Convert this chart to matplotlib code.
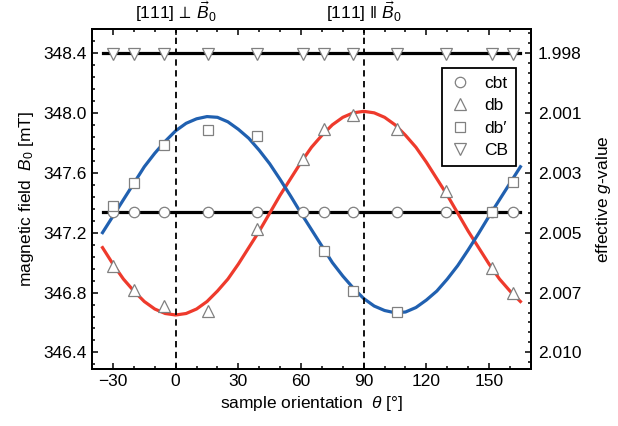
import matplotlib
matplotlib.use('Agg')
import matplotlib.pyplot as plt
from matplotlib.ticker import MultipleLocator, AutoMinorLocator

plt.rcParams['font.family'] = ['Liberation Sans', 'DejaVu Sans']
plt.rcParams['mathtext.fontset'] = 'custom'
plt.rcParams['mathtext.rm'] = 'Liberation Sans'
plt.rcParams['mathtext.it'] = 'Liberation Sans:italic'
plt.rcParams['mathtext.bf'] = 'Liberation Sans:bold'
plt.rcParams['mathtext.fallback'] = 'stixsans'

# sample orientations (deg) of the measured spectra
theta = [-30, -20, -5.5, 15.5, 39, 61, 71, 85, 106, 129.5, 151.5, 161.5]
cbt = [347.335] * 12
cb = [348.39] * 12
db = [346.975, 346.815, 346.713, 346.675, 347.225, 347.69,
      347.895, 347.987, 347.895, 347.475, 346.965, 346.798]
theta_dbp = [-30, -20, -5.5, 15.5, 39, 71, 85, 106, 151.5, 161.5]
dbp = [347.38, 347.53, 347.785, 347.887, 347.847,
       347.075, 346.813, 346.67, 347.335, 347.535]

# fitted curves every 5 deg
theta_fit = list(range(-35, 170, 5))
db_fit = [347.10, 346.99, 346.89, 346.81, 346.74, 346.69, 346.66, 346.65,
          346.66, 346.69, 346.74, 346.81, 346.89, 346.99, 347.10, 347.21,
          347.33, 347.45, 347.56, 347.67, 347.77, 347.85, 347.92, 347.97,
          348.00, 348.01, 348.00, 347.97, 347.92, 347.85, 347.77, 347.67,
          347.56, 347.45, 347.33, 347.21, 347.10, 346.99, 346.89, 346.81,
          346.74]
dbp_fit = [347.20, 347.31, 347.42, 347.53, 347.64, 347.73, 347.81, 347.88,
           347.93, 347.96, 347.975, 347.97, 347.94, 347.89, 347.83, 347.75,
           347.66, 347.555, 347.445, 347.33, 347.22, 347.11, 347.00, 346.91,
           346.83, 346.76, 346.71, 346.68, 346.665, 346.67, 346.70, 346.75,
           346.81, 346.89, 346.98, 347.085, 347.195, 347.31, 347.42, 347.53,
           347.64]
theta_flat = [-35, 165]
cbt_fit = [347.335, 347.335]
cb_fit = [348.40, 348.40]

b_ticks = [346.4, 346.8, 347.2, 347.6, 348.0, 348.4]
g_labels = ['2.010', '2.007', '2.005', '2.003', '2.001', '1.998']

RED = '#ee3a2c'
BLUE = '#2060b0'
FS = 12.5

fig = plt.figure(figsize=(6.18, 4.26), dpi=100)
ax = fig.add_axes([0.149, 0.134, 0.710, 0.798])

ax.plot(theta_flat, cb_fit, color='black', lw=2.3, zorder=2)
ax.plot(theta_flat, cbt_fit, color='black', lw=2.3, zorder=2)
ax.plot(theta_fit, db_fit, color=RED, lw=2.3, zorder=2)
ax.plot(theta_fit, dbp_fit, color=BLUE, lw=2.3, zorder=2)

ax.axvline(0, color='black', lw=1.3, ls=(0, (3.5, 2.5)), zorder=3)
ax.axvline(90, color='black', lw=1.3, ls=(0, (3.5, 2.5)), zorder=3)

mk = dict(ls='none', mfc='white', mec='#808080', mew=0.9, zorder=4)
ax.plot(theta, cbt, marker='o', ms=7.5, label='cbt', **mk)
ax.plot(theta, db, marker='^', ms=8.5, label='db', **mk)
ax.plot(theta_dbp, dbp, marker='s', ms=6.5, label='db\u2032', **mk)
ax.plot(theta, cb, marker='v', ms=8.5, label='CB', **mk)

ax.set_xlim(-40, 170)
ax.set_ylim(346.29, 348.56)
ax.xaxis.set_major_locator(MultipleLocator(30))
ax.xaxis.set_minor_locator(MultipleLocator(10))
ax.set_yticks(b_ticks)
ax.set_yticklabels(['%.1f' % v for v in b_ticks])
ax.yaxis.set_minor_locator(MultipleLocator(0.08))
ax.tick_params(which='both', direction='in', top=True, right=False,
               labelsize=FS, width=1.1)
ax.tick_params(which='major', length=4.5)
ax.tick_params(which='minor', length=2.2)

ax2 = ax.twinx()
ax2.set_ylim(ax.get_ylim())
ax2.set_yticks(b_ticks)
ax2.set_yticklabels(g_labels)
ax2.yaxis.set_minor_locator(AutoMinorLocator(6))
ax2.tick_params(which='both', direction='in', labelsize=FS, width=1.1, pad=5)
ax2.tick_params(which='major', length=4.5)
ax2.tick_params(which='minor', length=2.2)

for a in (ax, ax2):
    for s in a.spines.values():
        s.set_linewidth(1.4)

ax.set_xlabel(r'sample orientation  $\theta$ [°]', fontsize=FS, labelpad=4)
ax.set_ylabel(r'magnetic field  $B_0$ [mT]', fontsize=FS, labelpad=6)
ax2.set_ylabel(r'effective $g$-value', fontsize=FS, labelpad=9)

ax.text(0, 1.015, r'[111]$\,\perp\,\vec{B}_0$', transform=ax.get_xaxis_transform(),
        ha='center', va='bottom', fontsize=FS)
ax.text(90, 1.015, '[111] \u2016 $\\vec{B}_0$', transform=ax.get_xaxis_transform(),
        ha='center', va='bottom', fontsize=FS)

leg = ax.legend(loc='upper right', bbox_to_anchor=(0.966, 0.885), fontsize=FS,
                fancybox=False, framealpha=1, edgecolor='black',
                handlelength=1.2, handletextpad=0.8, borderpad=0.45,
                labelspacing=0.42, borderaxespad=0)
leg.get_frame().set_linewidth(1.3)
leg.set_zorder(10)

fig.savefig('out.png', dpi=100)
